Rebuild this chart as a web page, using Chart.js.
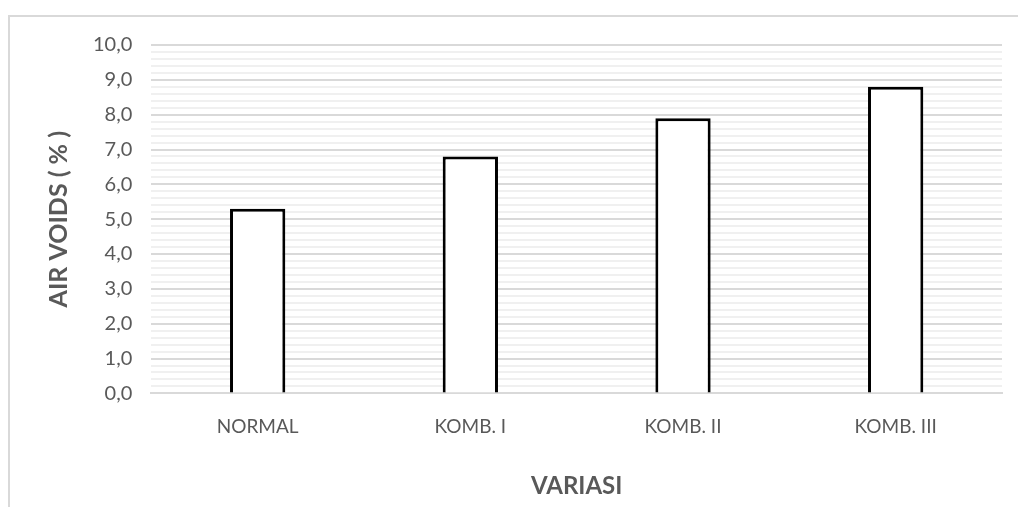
<!DOCTYPE html>
<html>
<head>
<meta charset="utf-8">
<script src="https://cdn.jsdelivr.net/npm/chart.js@4"></script>
<style>
  html, body { margin: 0; padding: 0; background: #fff; }
  #wrap { position: relative; width: 1018px; height: 507px; }
  #frame { position: absolute; left: 8px; top: 15px; width: 1010px; height: 492px;
           border-top: 2px solid #d9d9d9; border-left: 2px solid #d9d9d9; box-sizing: border-box; }
  canvas { position: absolute; left: 0; top: 0; }
</style>
</head>
<body>
<div id="wrap">
  <div id="frame"></div>
  <canvas id="myChart" width="1018" height="507"></canvas>
</div>
<script>
const categories = ['NORMAL', 'KOMB. I', 'KOMB. II', 'KOMB. III'];
const airVoids = [5.3, 6.8, 7.9, 8.8];
const yMin = 0;
const yMax = 10;
const yStep = 0.2;

const fontFamily = "Lato, 'Open Sans', sans-serif";
const textColor = '#595959';

function isMajor(value) {
    return Math.abs(value - Math.round(value)) < 1e-6;
}

const ctx = document.getElementById('myChart');
new Chart(ctx, {
    type: 'bar',
    data: {
        labels: categories,
        datasets: [{
            label: 'Air Voids',
            data: airVoids,
            backgroundColor: '#ffffff',
            borderColor: '#000000',
            borderWidth: 3,
            borderSkipped: 'bottom',
            barPercentage: 0.26,
            categoryPercentage: 1.0
        }]
    },
    options: {
        responsive: false,
        animation: false,
        layout: {
            padding: { top: 45, right: 16, left: 44, bottom: 6 }
        },
        plugins: {
            legend: { display: false },
            tooltip: { enabled: false }
        },
        scales: {
            y: {
                min: yMin,
                max: yMax,
                border: { display: false },
                grid: {
                    drawTicks: false,
                    lineWidth: 2,
                    color: c => isMajor(c.tick.value) ? '#d9d9d9' : '#f0f0f0'
                },
                ticks: {
                    stepSize: yStep,
                    autoSkip: false,
                    padding: 19,
                    color: textColor,
                    font: { family: fontFamily, size: 20 },
                    callback: value => isMajor(value) ? value.toFixed(1).replace('.', ',') : ''
                },
                title: {
                    display: true,
                    text: 'AIR VOIDS ( % )',
                    color: textColor,
                    font: { family: fontFamily, size: 25, weight: 'bold' },
                    padding: { top: 0, bottom: 0 }
                }
            },
            x: {
                border: { color: '#d9d9d9', width: 2 },
                grid: { display: false, drawTicks: false },
                ticks: {
                    padding: 22,
                    color: textColor,
                    font: { family: fontFamily, size: 19 }
                },
                title: {
                    display: true,
                    text: 'VARIASI',
                    color: textColor,
                    font: { family: fontFamily, size: 24, weight: 'bold' },
                    padding: { top: 12, bottom: 0 }
                }
            }
        }
    }
});
</script>
</body>
</html>
